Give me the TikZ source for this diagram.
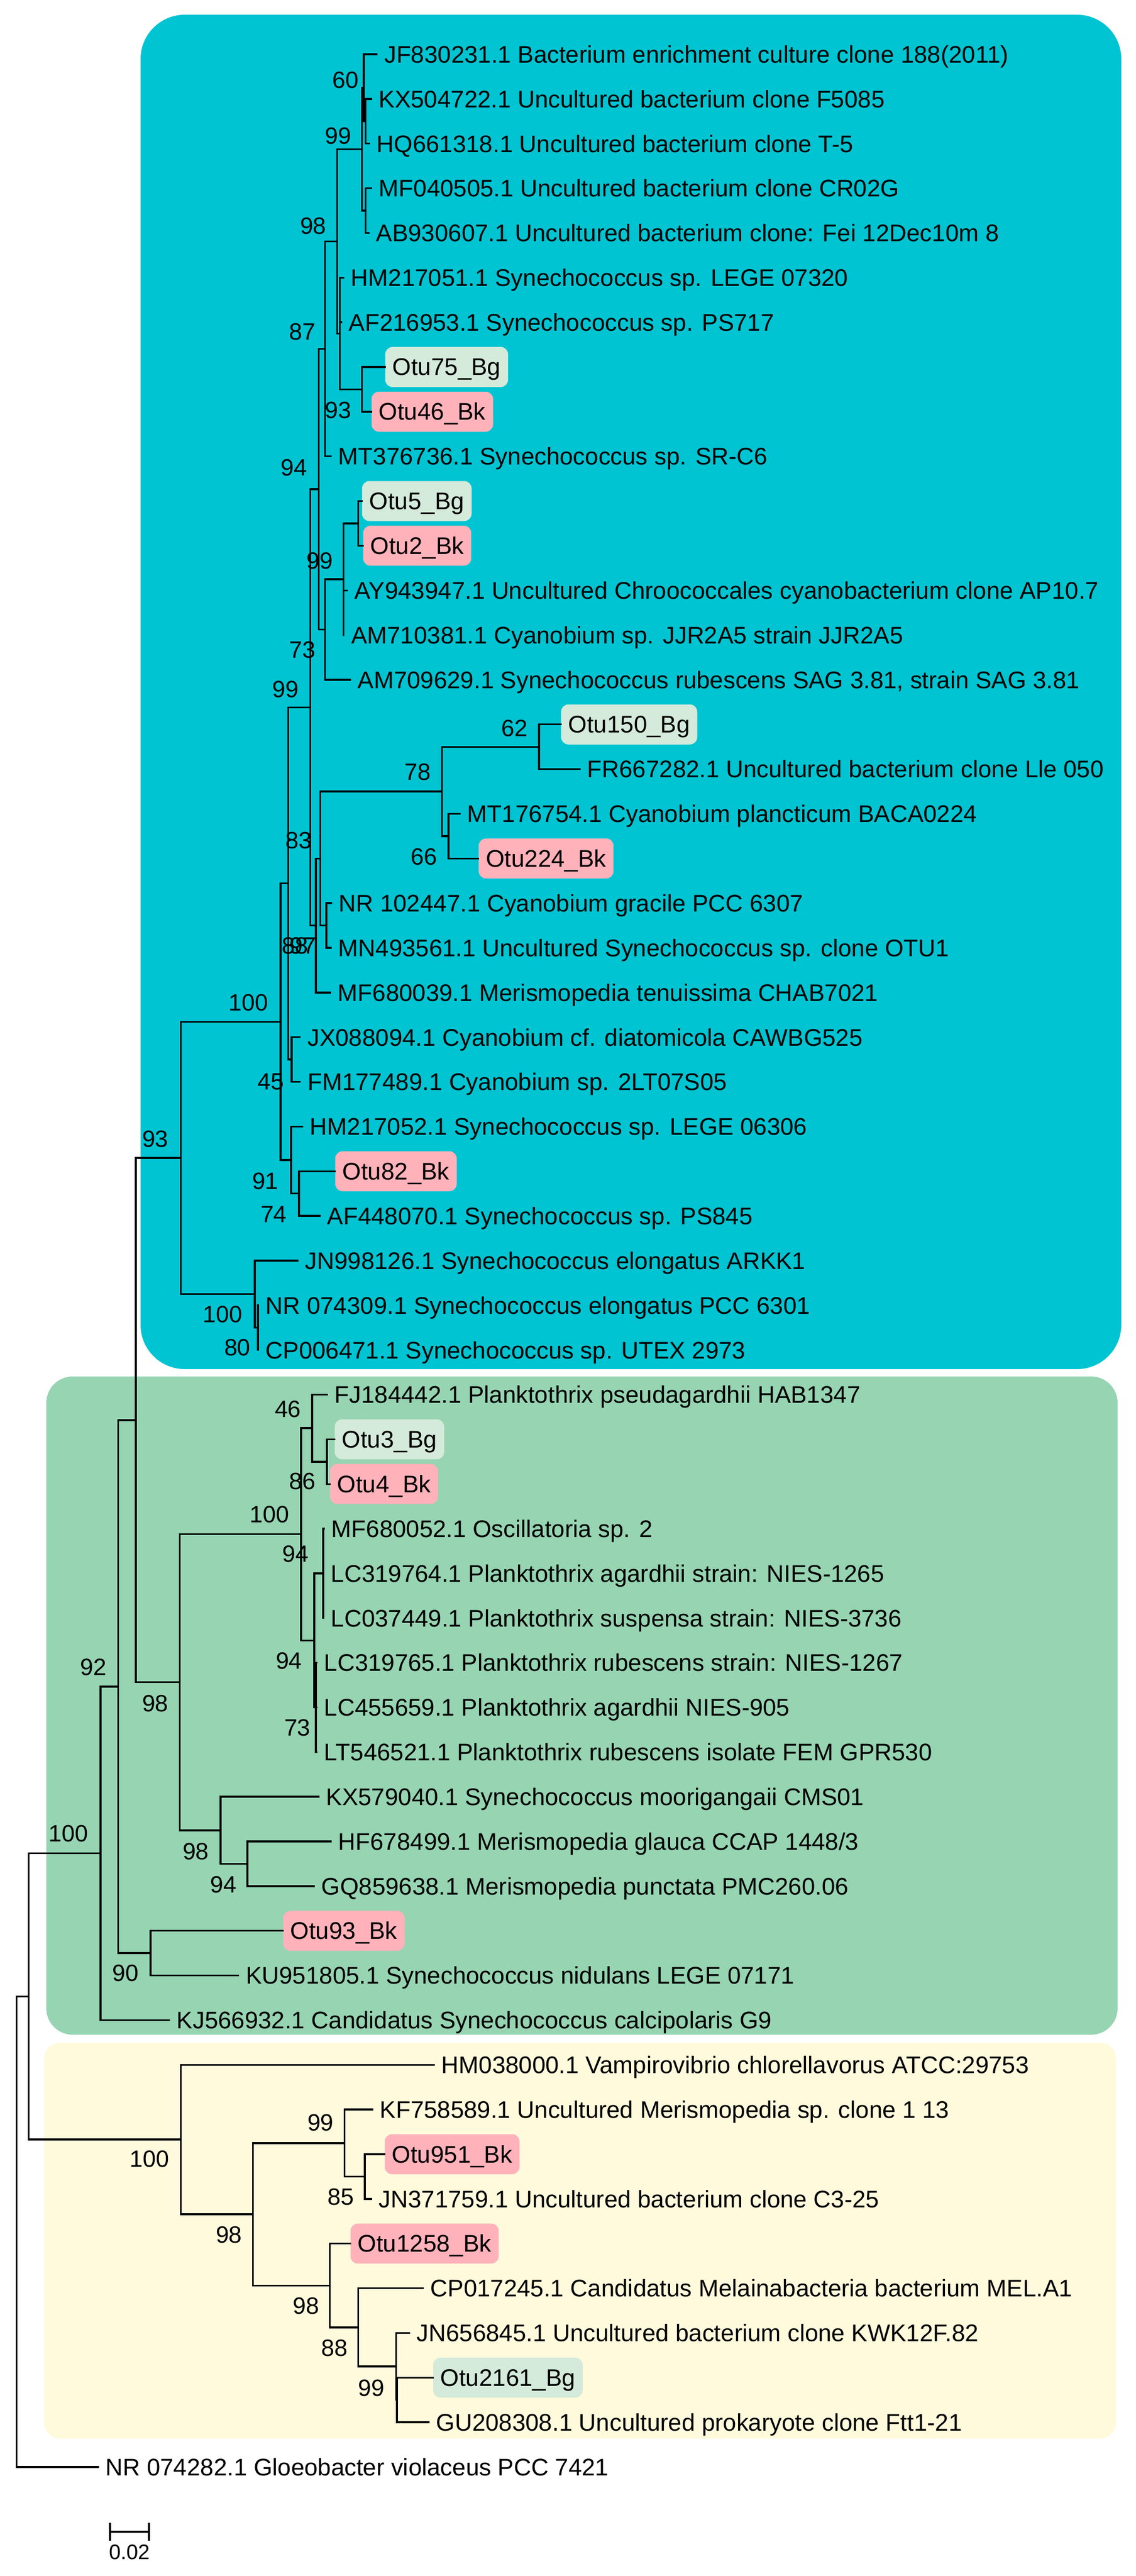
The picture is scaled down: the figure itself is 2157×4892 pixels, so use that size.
\documentclass[tikz,border=0pt]{standalone}
\usepackage{fontspec}
\setmainfont{Liberation Sans}
\definecolor{cTeal}{RGB}{0,196,210}
\definecolor{cGreen}{RGB}{150,212,178}
\definecolor{cYellow}{RGB}{255,250,220}
\definecolor{cPink}{RGB}{255,178,186}
\definecolor{cMint}{RGB}{212,234,218}
\newcommand\leaffont{\fontsize{11.4pt}{13pt}\selectfont}
\newcommand\bootfont{\fontsize{11.2pt}{13pt}\selectfont}
\newcommand\sbfont{\fontsize{10pt}{12pt}\selectfont}
\tikzset{
  treeline/.style={line width=0.85pt, line cap=rect, black},
  leaf/.style={anchor=west, inner xsep=3.5pt, inner ysep=0pt, text height=8.16pt, text depth=0pt, font=\leaffont},
  otubg/.style={anchor=west, fill=cMint, rounded corners=3.5pt, inner xsep=3.5pt, inner ysep=4pt, text height=9.5pt, text depth=1.5pt, font=\leaffont},
  otubk/.style={otubg, fill=cPink},
  boot/.style={inner sep=0pt, text height=8pt, text depth=0pt, font=\bootfont},
}
\begin{document}
\begin{tikzpicture}[x=0.25pt,y=-0.25pt]
\useasboundingbox (0,0) rectangle (2157,4892);
% clade backgrounds
\fill[cTeal, rounded corners=21pt] (267,28) rectangle (2130,2600);
\fill[cGreen, rounded corners=12.5pt] (88,2614) rectangle (2123,3864);
\fill[cYellow, rounded corners=7.5pt] (84,3879) rectangle (2120,4631);

% ---------- leaves: teal clade
\node[leaf] (JF) at (715.5,103.0) {JF830231.1 Bacterium enrichment culture clone 188(2011)};
\node[leaf] (KX) at (705,187.85) {KX504722.1 Uncultured bacterium clone F5085};
\node[leaf] (HQ) at (701,272.7) {HQ661318.1 Uncultured bacterium clone T-5};
\node[leaf] (MFa) at (705,357.55) {MF040505.1 Uncultured bacterium clone CR02G};
\node[leaf] (AB) at (700,442.4) {AB930607.1 Uncultured bacterium clone: Fei 12Dec10m 8};
\node[leaf] (HMa) at (652,527.25) {HM217051.1 Synechococcus sp. LEGE 07320};
\node[leaf] (AFa) at (648,612.1) {AF216953.1 Synechococcus sp. PS717};
\node[otubg] (O75) at (731,696.95) {Otu75\_Bg};
\node[otubk] (O46) at (705,781.8) {Otu46\_Bk};
\node[leaf] (MTa) at (628,866.65) {MT376736.1 Synechococcus sp. SR-C6};
\node[otubg] (O5) at (687,951.5) {Otu5\_Bg};
\node[otubk] (O2) at (689,1036.35) {Otu2\_Bk};
\node[leaf] (AY) at (659,1121.2) {AY943947.1 Uncultured Chroococcales cyanobacterium clone AP10.7};
\node[leaf] (AMa) at (652.4,1206.05) {AM710381.1 Cyanobium sp. JJR2A5 strain JJR2A5};
\node[leaf] (AMb) at (665,1290.9) {AM709629.1 Synechococcus rubescens SAG 3.81, strain SAG 3.81};
\node[otubg] (O150) at (1065,1375.75) {Otu150\_Bg};
\node[leaf] (FR) at (1101,1460.6) {FR667282.1 Uncultured bacterium clone Lle 050};
\node[leaf] (MTb) at (873,1545.45) {MT176754.1 Cyanobium plancticum BACA0224};
\node[otubk] (O224) at (908.5,1630.3) {Otu224\_Bk};
\node[leaf] (NRa) at (629,1715.15) {NR 102447.1 Cyanobium gracile PCC 6307};
\node[leaf] (MN) at (628,1800) {MN493561.1 Uncultured Synechococcus sp. clone OTU1};
\node[leaf] (MFb) at (627,1884.85) {MF680039.1 Merismopedia tenuissima CHAB7021};
\node[leaf] (JX) at (569.6,1969.7) {JX088094.1 Cyanobium cf. diatomicola CAWBG525};
\node[leaf] (FM) at (569.6,2054.55) {FM177489.1 Cyanobium sp. 2LT07S05};
\node[leaf] (HMb) at (574,2139.4) {HM217052.1 Synechococcus sp. LEGE 06306};
\node[otubk] (O82) at (636,2224.25) {Otu82\_Bk};
\node[leaf] (AFb) at (607,2309.1) {AF448070.1 Synechococcus sp. PS845};
\node[leaf] (JNa) at (565,2393.95) {JN998126.1 Synechococcus elongatus ARKK1};
\node[leaf] (NRb) at (490,2478.8) {NR 074309.1 Synechococcus elongatus PCC 6301};
\node[leaf] (CPa) at (490,2563.65) {CP006471.1 Synechococcus sp. UTEX 2973};
% ---------- leaves: green clade
\node[leaf] (FJ) at (621,2648.5) {FJ184442.1 Planktothrix pseudagardhii HAB1347};
\node[otubg] (O3) at (635,2733.35) {Otu3\_Bg};
\node[otubk] (O4) at (626,2818.2) {Otu4\_Bk};
\node[leaf] (MFc) at (615,2903.05) {MF680052.1 Oscillatoria sp. 2};
\node[leaf] (LCa) at (614,2987.9) {LC319764.1 Planktothrix agardhii strain: NIES-1265};
\node[leaf] (LCb) at (614,3072.75) {LC037449.1 Planktothrix suspensa strain: NIES-3736};
\node[leaf] (LCc) at (601,3157.6) {LC319765.1 Planktothrix rubescens strain: NIES-1267};
\node[leaf] (LCd) at (601,3242.45) {LC455659.1 Planktothrix agardhii NIES-905};
\node[leaf] (LT) at (601,3327.3) {LT546521.1 Planktothrix rubescens isolate FEM GPR530};
\node[leaf] (KXb) at (605,3412.15) {KX579040.1 Synechococcus moorigangaii CMS01};
\node[leaf] (HF) at (628,3497) {HF678499.1 Merismopedia glauca CCAP 1448/3};
\node[leaf] (GQ) at (596,3581.85) {GQ859638.1 Merismopedia punctata PMC260.06};
\node[otubk] (O93) at (537,3666.7) {Otu93\_Bk};
\node[leaf] (KU) at (452.5,3751.55) {KU951805.1 Synechococcus nidulans LEGE 07171};
\node[leaf] (KJ) at (321,3836.4) {KJ566932.1 Candidatus Synechococcus calcipolaris G9};
% ---------- leaves: yellow clade
\node[leaf] (HMc) at (824,3921.25) {HM038000.1 Vampirovibrio chlorellavorus ATCC:29753};
\node[leaf] (KF) at (707,4006.1) {KF758589.1 Uncultured Merismopedia sp. clone 1 13};
\node[otubk] (O951) at (730,4090.95) {Otu951\_Bk};
\node[leaf] (JNb) at (705,4175.8) {JN371759.1 Uncultured bacterium clone C3-25};
\node[otubk] (O1258) at (665,4260.65) {Otu1258\_Bk};
\node[leaf] (CPb) at (803,4345.5) {CP017245.1 Candidatus Melainabacteria bacterium MEL.A1};
\node[leaf] (JNc) at (777,4430.35) {JN656845.1 Uncultured bacterium clone KWK12F.82};
\node[otubg] (O2161) at (822,4515.2) {Otu2161\_Bg};
\node[leaf] (GU) at (814,4600.05) {GU208308.1 Uncultured prokaryote clone Ftt1-21};
% ---------- outgroup
\node[leaf] (NRc) at (186,4684.9) {NR 074282.1 Gloeobacter violaceus PCC 7421};

% ---------- internal nodes
\coordinate (nKH) at (694.5,230.3);
\coordinate (n60) at (691,166.6);
\coordinate (nMA) at (694.5,400.0);
\coordinate (n99a) at (687.5,283.3);
\coordinate (n93a) at (687.5,739.4);
\coordinate (nHM) at (645.4,633.3);
\coordinate (n98a) at (640.5,458.3);
\coordinate (n87) at (617.3,662.5);
\coordinate (nO52) at (680.5,993.9);
\coordinate (n99b) at (652.4,1100.0);
\coordinate (n73) at (617.3,1195.5);
\coordinate (n94) at (605.4,929.0);
\coordinate (n62) at (1024,1418.2);
\coordinate (n66) at (852,1587.9);
\coordinate (n78) at (839.7,1503.0);
\coordinate (nNM) at (620,1757.6);
\coordinate (n83b) at (608.3,1630.3);
\coordinate (n83) at (600,1757.6);
\coordinate (n99c) at (589.3,1343.3);
\coordinate (n45) at (554,2012.1);
\coordinate (n88) at (547.5,1677.7);
\coordinate (n74) at (568,2266.7);
\coordinate (n91) at (553,2203.0);
\coordinate (n100t) at (533,1940.4);
\coordinate (n80) at (490,2521.2);
\coordinate (n100b) at (484,2457.6);
\coordinate (n93) at (343.7,2199.0);
\coordinate (nO34) at (621,2775.8);
\coordinate (n46) at (593,2712.1);
\coordinate (nLC1) at (614,2987.9);
\coordinate (nLC2) at (600,3242.45);
\coordinate (n94a) at (597,3115.2);
\coordinate (n100g) at (572,2913.6);
\coordinate (n94c) at (470,3539.4);
\coordinate (n98c) at (419,3475.8);
\coordinate (n98g) at (341.6,3194.7);
\coordinate (nX) at (258,2696.9);
\coordinate (n90) at (286,3709.1);
\coordinate (n92) at (224.5,3203.0);
\coordinate (n100) at (190.8,3519.7);
\coordinate (n85) at (693,4133.4);
\coordinate (n99y) at (654.5,4069.8);
\coordinate (nOG) at (754,4557.6);
\coordinate (n99z) at (752.7,4494.0);
\coordinate (n88y) at (680.5,4419.8);
\coordinate (n98b) at (626.5,4340.2);
\coordinate (n98y) at (480.5,4205.0);
\coordinate (n100y) at (343.7,4063.1);
\coordinate (nA) at (54.7,3791.4);
\coordinate (root) at (31.6,4238.2);

% ---------- branches
\begin{scope}[treeline]
\draw (n60) |- (JF.west); \draw (n60) |- (nKH);
\draw (nKH) |- (KX.west); \draw (nKH) |- (HQ.west);
\draw (nMA) |- (MFa.west); \draw (nMA) |- (AB.west);
\draw (n99a) |- (n60); \draw (n99a) |- (nMA);
\draw (n93a) |- (O75.west); \draw (n93a) |- (O46.west);
\draw (nHM) |- (HMa.west); \draw (nHM) |- (AFa.west); \draw (nHM) |- (n93a);
\draw (n98a) |- (n99a); \draw (n98a) |- (nHM);
\draw (n87) |- (n98a); \draw (n87) |- (MTa.west);
\draw (nO52) |- (O5.west); \draw (nO52) |- (O2.west);
\draw (n99b) |- (nO52); \draw (n99b) |- (AY.west); \draw (n99b) |- (AMa.west);
\draw (n73) |- (n99b); \draw (n73) |- (AMb.west);
\draw (n94) |- (n87); \draw (n94) |- (n73);
\draw (n62) |- (O150.west); \draw (n62) |- (FR.west);
\draw (n66) |- (MTb.west); \draw (n66) |- (O224.west);
\draw (n78) |- (n62); \draw (n78) |- (n66);
\draw (nNM) |- (NRa.west); \draw (nNM) |- (MN.west);
\draw (n83b) |- (n78); \draw (n83b) |- (nNM);
\draw (n83) |- (n83b); \draw (n83) |- (MFb.west);
\draw (n99c) |- (n94); \draw (n99c) |- (n83);
\draw (n45) |- (JX.west); \draw (n45) |- (FM.west);
\draw (n88) |- (n99c); \draw (n88) |- (n45);
\draw (n74) |- (O82.west); \draw (n74) |- (AFb.west);
\draw (n91) |- (HMb.west); \draw (n91) |- (n74);
\draw (n100t) |- (n88); \draw (n100t) |- (n91);
\draw (n80) |- (NRb.west); \draw (n80) |- (CPa.west);
\draw (n100b) |- (JNa.west); \draw (n100b) |- (n80);
\draw (n93) |- (n100t); \draw (n93) |- (n100b);
\draw (nO34) |- (O3.west); \draw (nO34) |- (O4.west);
\draw (n46) |- (FJ.west); \draw (n46) |- (nO34);
\draw (nLC1) |- (MFc.west); \draw (nLC1) |- (LCa.west); \draw (nLC1) |- (LCb.west);
\draw (nLC2) |- (LCc.west); \draw (nLC2) |- (LCd.west); \draw (nLC2) |- (LT.west);
\draw (n94a) |- (nLC1); \draw (n94a) |- (nLC2);
\draw (n100g) |- (n46); \draw (n100g) |- (n94a);
\draw (n94c) |- (HF.west); \draw (n94c) |- (GQ.west);
\draw (n98c) |- (KXb.west); \draw (n98c) |- (n94c);
\draw (n98g) |- (n100g); \draw (n98g) |- (n98c);
\draw (nX) |- (n93); \draw (nX) |- (n98g);
\draw (n90) |- (O93.west); \draw (n90) |- (KU.west);
\draw (n92) |- (nX); \draw (n92) |- (n90);
\draw (n100) |- (n92); \draw (n100) |- (KJ.west);
\draw (n85) |- (O951.west); \draw (n85) |- (JNb.west);
\draw (n99y) |- (KF.west); \draw (n99y) |- (n85);
\draw (nOG) |- (O2161.west); \draw (nOG) |- (GU.west);
\draw (n99z) |- (JNc.west); \draw (n99z) |- (nOG);
\draw (n88y) |- (CPb.west); \draw (n88y) |- (n99z);
\draw (n98b) |- (O1258.west); \draw (n98b) |- (n88y);
\draw (n98y) |- (n99y); \draw (n98y) |- (n98b);
\draw (n100y) |- (HMc.west); \draw (n100y) |- (n98y);
\draw (nA) |- (n100); \draw (nA) |- (n100y);
\draw (root) |- (nA); \draw (root) |- (NRc.west);
\end{scope}

% ---------- bootstrap values
\node[boot] (b1) at (656,152) {60};
\node[boot] (b2) at (642,258) {99};
\node[boot] (b3) at (595,428) {98};
\node[boot] (b4) at (574,629) {87};
\node[boot] (b5) at (642,778) {93};
\node[boot] (b6) at (558,887) {94};
\node[boot] (b7) at (607,1064) {99};
\node[boot] (b8) at (574,1233) {73};
\node[boot] (b9) at (542,1308) {99};
\node[boot] (b10) at (977,1382) {62};
\node[boot] (b11) at (793,1465) {78};
\node[boot] (b12) at (567,1595) {83};
\node[boot] (b13) at (805,1626) {66};
\node[boot] (b14) at (560,1795) {88};
\node[boot] (b15) at (575,1795) {97};
\node[boot] (b16) at (472,1903) {100};
\node[boot] (b17) at (514,2053) {45};
\node[boot] (b18) at (504,2242) {91};
\node[boot] (b19) at (520,2305) {74};
\node[boot] (b20) at (295,2162) {93};
\node[boot] (b21) at (423,2495) {100};
\node[boot] (b22) at (451,2558) {80};
\node[boot] (b23) at (547,2675) {46};
\node[boot] (b24) at (574,2812) {86};
\node[boot] (b25) at (512,2875) {100};
\node[boot] (b26) at (561,2950) {94};
\node[boot] (b27) at (549,3153) {94};
\node[boot] (b28) at (565,3280) {73};
\node[boot] (b29) at (177.5,3165) {92};
\node[boot] (b30) at (295,3234) {98};
\node[boot] (b31) at (130,3481) {100};
\node[boot] (b32) at (372,3515) {98};
\node[boot] (b33) at (424,3578) {94};
\node[boot] (b34) at (238.5,3746) {90};
\node[boot] (b35) at (284,4099) {100};
\node[boot] (b36) at (609,4030) {99};
\node[boot] (b37) at (647,4171) {85};
\node[boot] (b38) at (435,4243) {98};
\node[boot] (b39) at (581,4378) {98};
\node[boot] (b40) at (635,4458) {88};
\node[boot] (b41) at (705,4534) {99};

% ---------- scale bar
\coordinate (sbL) at (209,4808);
\coordinate (sbR) at (283,4808);
\draw[treeline, line cap=butt] (sbL) -- (sbR);
\draw[treeline, line cap=butt] (209,4791) -- (209,4825);
\draw[treeline, line cap=butt] (283,4791) -- (283,4825);
\node[inner sep=0pt, font=\sbfont] (sbt) at (246,4847) {0.02};
\end{tikzpicture}
\end{document}
